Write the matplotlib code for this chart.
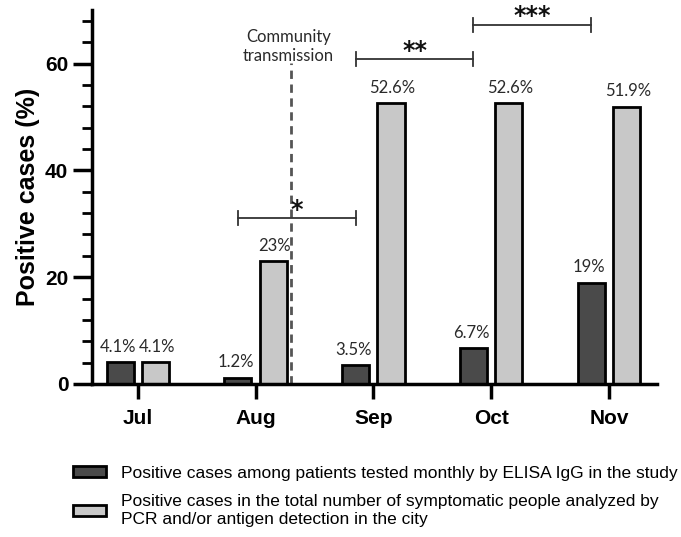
import matplotlib.pyplot as plt
import numpy as np

months = ["Jul", "Aug", "Sep", "Oct", "Nov"]
elisa = [4.1, 1.2, 3.5, 6.7, 19]
pcr = [4.1, 23, 52.6, 52.6, 51.9]
elisa_lbl = ["4.1%", "1.2%", "3.5%", "6.7%", "19%"]
pcr_lbl = ["4.1%", "23%", "52.6%", "52.6%", "51.9%"]
# significance brackets: (start month, end month, height, stars)
brackets = [(1, 2, 31, "*"), (2, 3, 60.8, "**"), (3, 4, 67.3, "***")]
community_x = 1.30

leg1 = "Positive cases among patients tested monthly by ELISA IgG in the study"
leg2 = ("Positive cases in the total number of symptomatic people analyzed by\n"
        "PCR and/or antigen detection in the city")

dark = "#4a4a4a"
light = "#c8c8c8"
w = 0.23
off = 0.15
x = np.arange(len(months))

fig = plt.figure(figsize=(6.81, 5.37), dpi=100)
ax = fig.add_axes([0.135, 0.285, 0.83, 0.696])

b1 = ax.bar(x - off, elisa, w, color=dark, edgecolor="black", linewidth=2)
b2 = ax.bar(x + off, pcr, w, color=light, edgecolor="black", linewidth=2)

lblfont = dict(family="Lato", fontsize=12, ha="center", va="bottom", color="#2a2a2a")
for xi, v, t in zip(x, elisa, elisa_lbl):
    ax.text(xi - off - 0.02, v + 1.4, t, **lblfont)
for xi, v, t in zip(x, pcr, pcr_lbl):
    ax.text(xi + off + 0.01, v + 1.4, t, **lblfont)

# community transmission line
ax.plot([community_x, community_x], [0, 60.2], ls=(0, (3, 2)), color="#555555", lw=2)
ax.text(community_x - 0.02, 60.0, "Community\ntransmission", family="Lato",
        fontsize=12, ha="center", va="bottom", color="#2a2a2a", linespacing=1.2)

# brackets
for a, b, h, s in brackets:
    xa, xb = a - off, b - off
    ax.plot([xa, xb], [h, h], color="#333333", lw=1.3)
    ax.plot([xa, xa], [h - 1.3, h + 1.3], color="#333333", lw=1.3)
    ax.plot([xb, xb], [h - 1.3, h + 1.3], color="#333333", lw=1.3)
    ax.text((xa + xb) / 2, h - 0.6, s, ha="center", va="bottom",
            fontsize=17, fontweight="bold", color="#111111")

ax.set_xlim(-0.39, 4.41)
ax.set_ylim(0, 70)
ax.set_xticks(x)
ax.set_xticklabels(months, family="Liberation Sans", fontsize=15, fontweight="bold")
ax.set_yticks([0, 20, 40, 60])
ax.set_yticks(np.arange(0, 70, 4), minor=True)
ax.set_yticklabels(["0", "20", "40", "60"], family="Liberation Sans", fontsize=15, fontweight="bold")
ax.set_ylabel("Positive cases (%)", family="Liberation Sans", fontsize=18, fontweight="bold",
              labelpad=4)
for sp in ["top", "right"]:
    ax.spines[sp].set_visible(False)
for sp in ["left", "bottom"]:
    ax.spines[sp].set_linewidth(2.5)
ax.tick_params(axis="y", which="major", length=14, width=2.5, pad=3)
ax.tick_params(axis="y", which="minor", length=7, width=2)
ax.tick_params(axis="x", length=11, width=2.5, pad=7)

fig.legend([b1, b2], [leg1, leg2], loc="upper left", bbox_to_anchor=(0.107, 0.133),
           frameon=False, prop=dict(family="Liberation Sans", size=12.5),
           borderpad=0, borderaxespad=0,
           handlelength=1.9, handleheight=0.57, handletextpad=0.9, labelspacing=0.8)

fig.savefig("out.png", dpi=100)
